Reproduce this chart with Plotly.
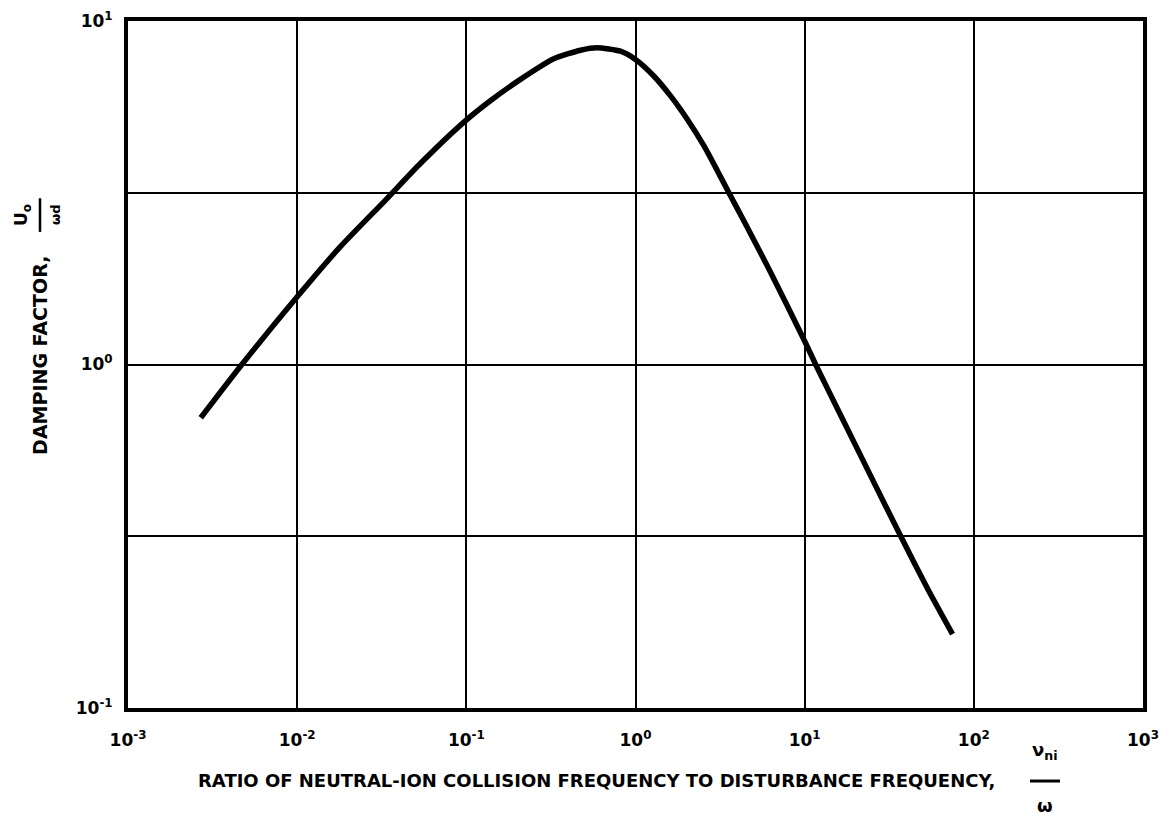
import plotly.graph_objects as go

# Curve (nu_ni/omega vs U0/(omega d))
ratio = [0.002692, 0.004710, 0.01, 0.01778, 0.03319, 0.05346, 0.09638, 0.1387,
         0.2089, 0.3289, 0.4732, 0.5929, 0.8147, 1.0, 1.282, 1.611, 2.023, 2.535,
         3.041, 3.565, 4.375, 6.295, 10.14, 11.61, 15.60, 24.60, 36.98, 53.21, 74.82]
damping = [0.6998, 1.0, 1.574, 2.188, 3.006, 3.846, 5.070, 5.861,
           6.761, 7.762, 8.222, 8.356, 8.166, 7.727, 6.918, 6.053, 5.176, 4.335,
           3.673, 3.162, 2.618, 1.854, 1.153, 1.0, 0.7447, 0.4732, 0.3162, 0.2228, 0.1641]

x_tickvals = [1e-3, 1e-2, 1e-1, 1e0, 1e1, 1e2, 1e3]
x_ticktext = ["10<sup>-3</sup>", "10<sup>-2</sup>", "10<sup>-1</sup>", "10<sup>0</sup>",
              "10<sup>1</sup>", "10<sup>2</sup>", "10<sup>3</sup>"]
y_tickvals = [0.1, 0.31623, 1.0, 3.1623, 10.0]
y_ticktext = ["10<sup>-1</sup>", "", "10<sup>0</sup>", "", "10<sup>1</sup>"]

FONT = "DejaVu Sans, Liberation Sans, Arial, sans-serif"

fig = go.Figure()
fig.add_trace(go.Scatter(
    x=ratio, y=damping, mode="lines",
    line=dict(color="black", width=5.5, shape="spline", smoothing=0.6),
    showlegend=False, hoverinfo="skip",
))

fig.update_xaxes(
    type="log", range=[-3, 3], automargin=False,
    tickvals=x_tickvals, ticktext=x_ticktext,
    showgrid=True, gridcolor="black", gridwidth=2,
    showline=True, linecolor="black", linewidth=4, mirror=True,
    ticks="", zeroline=False, ticklabelstandoff=14,
    tickfont=dict(family=FONT, size=17, color="black", weight="bold"),
)
fig.update_yaxes(
    type="log", range=[-1, 1], automargin=False,
    tickvals=y_tickvals, ticktext=y_ticktext,
    showgrid=True, gridcolor="black", gridwidth=2,
    showline=True, linecolor="black", linewidth=4, mirror=True,
    ticks="", zeroline=False, ticklabelstandoff=8,
    tickfont=dict(family=FONT, size=17, color="black", weight="bold"),
)

# x-axis title with fraction
fig.add_annotation(text="RATIO OF NEUTRAL-ION COLLISION FREQUENCY TO DISTURBANCE FREQUENCY,",
                   xref="paper", yref="paper", x=0.462, y=-0.106,
                   xanchor="center", yanchor="middle", showarrow=False,
                   font=dict(family=FONT, size=18, color="black", weight="bold"))
fig.add_annotation(text="ν<sub>ni</sub>", xref="paper", yref="paper",
                   x=0.9034, y=-0.062, xanchor="center", yanchor="middle",
                   showarrow=False, font=dict(family=FONT, size=18, color="black", weight="bold"))
fig.add_annotation(text="ω", xref="paper", yref="paper",
                   x=0.9034, y=-0.1426, xanchor="center", yanchor="middle",
                   showarrow=False, font=dict(family=FONT, size=18, color="black", weight="bold"))
fig.add_shape(type="line", xref="paper", yref="paper",
              x0=0.8887, x1=0.9182, y0=-0.1063, y1=-0.1063,
              line=dict(color="black", width=3))

# y-axis title with fraction
fig.add_annotation(text="DAMPING FACTOR,", xref="paper", yref="paper",
                   x=-0.0867, y=0.514, xanchor="center", yanchor="middle",
                   textangle=-90, showarrow=False,
                   font=dict(family=FONT, size=19, color="black", weight="bold"))
fig.add_annotation(text="U<sub>o</sub>", xref="paper", yref="paper",
                   x=-0.1044, y=0.7176, xanchor="center", yanchor="middle",
                   textangle=-90, showarrow=False,
                   font=dict(family=FONT, size=17, color="black", weight="bold"))
fig.add_annotation(text="ωd", xref="paper", yref="paper",
                   x=-0.0719, y=0.7176, xanchor="center", yanchor="middle",
                   textangle=-90, showarrow=False,
                   font=dict(family=FONT, size=13, color="black", weight="bold"))
fig.add_shape(type="line", xref="paper", yref="paper",
              x0=-0.0867, x1=-0.0867, y0=0.693, y1=0.742,
              line=dict(color="black", width=2.5))

fig.update_layout(
    width=1165, height=813,
    margin=dict(l=120, r=30, t=13, b=113),
    paper_bgcolor="white", plot_bgcolor="white",
    font=dict(family=FONT, color="black"),
)

fig.write_html("out.html")
